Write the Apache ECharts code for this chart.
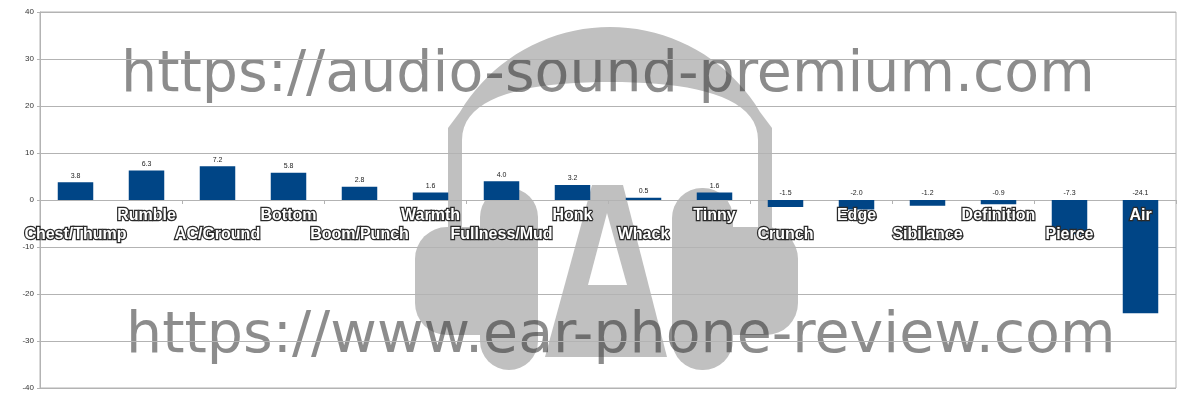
<!DOCTYPE html>
<html>
<head>
<meta charset="utf-8">
<script src="https://cdn.jsdelivr.net/npm/echarts@6/dist/echarts.min.js"></script>
<style>
html,body{margin:0;padding:0;background:#fff;}
#chart{width:1200px;height:400px;}
</style>
</head>
<body>
<div id="chart"></div>
<script>
const categories = ['Chest/Thump','Rumble','AC/Ground','Bottom','Boom/Punch','Warmth','Fullness/Mud','Honk','Whack','Tinny','Crunch','Edge','Sibilance','Definition','Pierce','Air'];
const values = [3.8, 6.3, 7.2, 5.8, 2.8, 1.6, 4.0, 3.2, 0.5, 1.6, -1.5, -2.0, -1.2, -0.9, -7.3, -24.1];
const labelBase = [0, 0, 0, 0, 0, 0, 0, 0, 0, 0, 0, 0, 0, 0, 0, 0];
const yTicks = [-40, -30, -20, -10, 0, 10, 20, 30, 40];
const watermark1 = 'https://audio-sound-premium.com';
const watermark2 = 'https://www.ear-phone-review.com';

// headband outline (decorative logo)
function bandPoints() {
  const pts = [[448, 240], [448, 128], [460, 112]];
  const cx = 610, cy = 202, R = 175;
  const a0 = Math.atan2(112 - cy, 460 - cx), a1 = Math.atan2(112 - cy, 760 - cx);
  const n = 40;
  for (let i = 1; i < n; i++) {
    const a = a0 + (a1 - a0) * i / n;
    pts.push([cx + R * Math.cos(a), cy + R * Math.sin(a)]);
  }
  pts.push([760, 112], [772, 128], [772, 240], [758, 240], [758, 140]);
  function cubic(p0, p1, p2, p3) {
    for (let i = 1; i <= 20; i++) {
      const t = i / 20, u = 1 - t;
      pts.push([u*u*u*p0[0] + 3*u*u*t*p1[0] + 3*u*t*t*p2[0] + t*t*t*p3[0],
                u*u*u*p0[1] + 3*u*u*t*p1[1] + 3*u*t*t*p2[1] + t*t*t*p3[1]]);
    }
  }
  cubic([758, 140], [758, 95], [690, 82], [610, 82]);
  cubic([610, 82], [530, 82], [462, 95], [462, 140]);
  pts.push([462, 240]);
  return pts;
}

const chart = echarts.init(document.getElementById('chart'), null, {renderer: 'canvas'});
const logoColor = '#c0c0c0';
const wmText = 'rgba(38,38,38,0.53)';
const option = {
  backgroundColor: '#ffffff',
  animation: false,
  grid: {left: 40, right: 24, top: 12, bottom: 12, show: true, borderColor: '#b3b3b3', borderWidth: 1, backgroundColor: 'transparent', containLabel: false, outerBoundsMode: 'none'},
  graphic: [
    {type: 'polygon', z: -20, shape: {points: bandPoints()}, style: {fill: logoColor}},
    {type: 'rect', z: -20, shape: {x: 415, y: 227, width: 70, height: 108, r: [32, 0, 0, 32]}, style: {fill: logoColor}},
    {type: 'rect', z: -20, shape: {x: 480, y: 188, width: 58, height: 182, r: 29}, style: {fill: logoColor}},
    {type: 'rect', z: -20, shape: {x: 672, y: 188, width: 61, height: 182, r: 30}, style: {fill: logoColor}},
    {type: 'rect', z: -20, shape: {x: 728, y: 227, width: 70, height: 108, r: [0, 32, 32, 0]}, style: {fill: logoColor}},
    {type: 'polygon', z: -20, shape: {points: [[592, 185], [623, 185], [667, 357], [545, 357]]}, style: {fill: logoColor}},
    {type: 'polygon', z: -19, shape: {points: [[607, 213], [588, 285], [627, 285]]}, style: {fill: '#ffffff'}},
    {type: 'text', z: -15, x: 121, y: 76, style: {text: watermark1, font: '57px "DejaVu Sans"', fill: wmText, textAlign: 'left', textVerticalAlign: 'middle', verticalAlign: 'middle'}},
    {type: 'text', z: -15, x: 126, y: 337, style: {text: watermark2, font: '57px "DejaVu Sans"', fill: wmText, textAlign: 'left', textVerticalAlign: 'middle', verticalAlign: 'middle'}}
  ],
  xAxis: {
    type: 'category',
    data: categories,
    axisLine: {show: true, onZero: true, lineStyle: {color: '#b3b3b3', width: 1}},
    axisTick: {show: true, length: 4, alignWithLabel: false, lineStyle: {color: '#b3b3b3'}},
    splitLine: {show: false},
    axisLabel: {show: false}
  },
  yAxis: {
    type: 'value',
    min: -40, max: 40, interval: 10,
    axisLine: {show: true, lineStyle: {color: '#b3b3b3'}},
    axisTick: {show: true, length: 3, lineStyle: {color: '#b3b3b3'}},
    splitLine: {show: true, lineStyle: {color: '#b3b3b3', width: 1}},
    axisLabel: {
      margin: 6,
      fontFamily: '"Liberation Sans", Arial, sans-serif',
      fontSize: 8,
      color: '#333333'
    }
  },
  series: [{
    type: 'bar',
    data: values,
    barWidth: '50%',
    barGap: '-100%',
    itemStyle: {color: '#004586'},
    label: {
      show: true,
      position: 'top',
      distance: 3,
      fontFamily: '"Liberation Sans", Arial, sans-serif',
      fontSize: 7,
      color: '#222222',
      formatter: function (p) { return p.value.toFixed(1); }
    }
  }, {
    type: 'bar',
    data: labelBase,
    barWidth: '50%',
    barGap: '-100%',
    silent: true,
    z: 3,
    itemStyle: {color: 'transparent'},
    label: {
      show: true,
      position: 'bottom',
      distance: 6,
      formatter: function (p) { return (p.dataIndex % 2 === 0 ? '\n' : '') + categories[p.dataIndex]; },
      fontFamily: '"Liberation Sans", Arial, sans-serif',
      fontSize: 16,
      fontWeight: 'bold',
      lineHeight: 19,
      color: '#ffffff',
      textBorderColor: '#2a2a2a',
      textBorderWidth: 2.5
    }
  }]
};
chart.setOption(option);
</script>
</body>
</html>
